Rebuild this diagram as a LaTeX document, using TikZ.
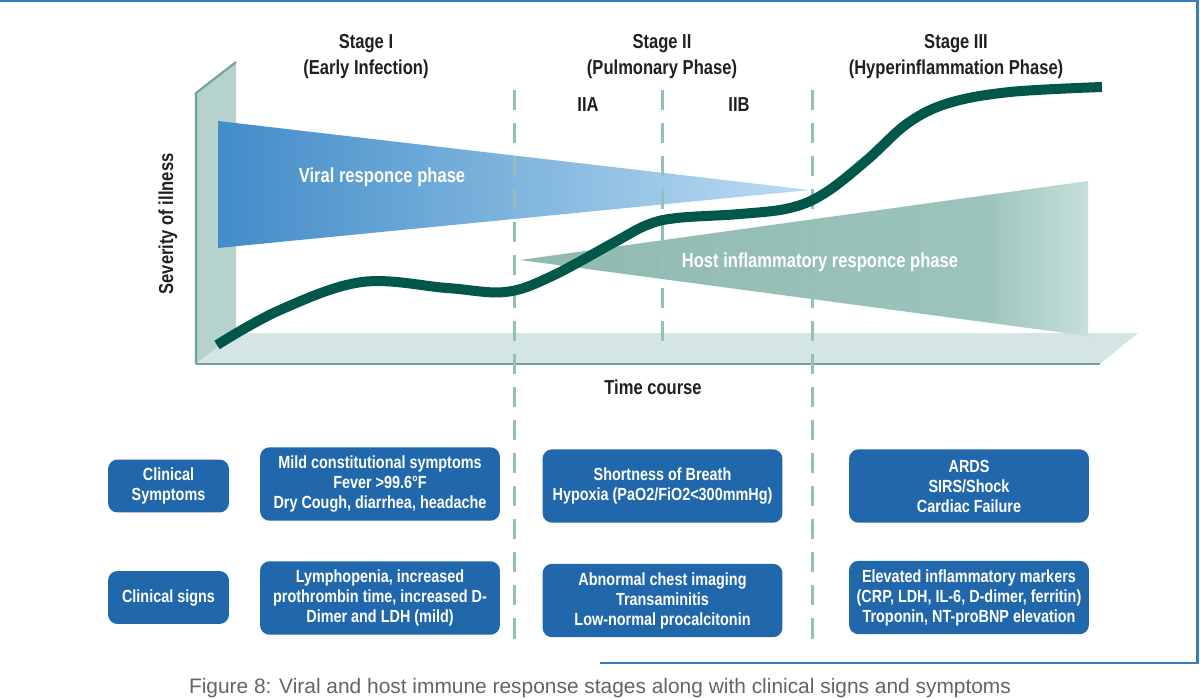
\documentclass[tikz,border=0pt]{standalone}
\usepackage{fontspec}
\newfontfamily\figfont[FakeStretch=0.82]{Liberation Sans}
\newfontfamily\capfont{Liberation Sans}
\usetikzlibrary{positioning}
\definecolor{boxblue}{RGB}{33,103,172}
\definecolor{framblue}{RGB}{58,124,192}
\definecolor{curvegreen}{RGB}{0,87,74}
\definecolor{wallteal}{RGB}{181,210,204}
\definecolor{floorteal}{RGB}{212,229,227}
\definecolor{edgeteal}{RGB}{107,166,156}
\definecolor{dashteal}{RGB}{147,193,185}
\definecolor{viralA}{RGB}{66,140,200}
\definecolor{viralB}{RGB}{188,221,243}
\definecolor{hostA}{RGB}{143,185,177}
\definecolor{hostM}{RGB}{156,196,188}
\definecolor{hostB}{RGB}{198,224,219}
\definecolor{inkdark}{RGB}{35,31,32}
\definecolor{capgray}{RGB}{100,100,100}
\pgfdeclarehorizontalshading{hostshade}{100bp}{color(0bp)=(hostA); color(25bp)=(hostA); color(66bp)=(hostM); color(75bp)=(hostB); color(100bp)=(hostB)}
\tikzset{
  stagelabel/.style={font=\figfont\bfseries\fontsize{11.5}{14.8}\selectfont, text=inkdark, align=center},
  phaselabel/.style={font=\figfont\bfseries\fontsize{11.5}{14}\selectfont, text=white},
  infobox/.style={rounded corners=5.5pt, fill=boxblue, text=white, align=center, inner sep=0pt,
    minimum width=4.8cm, minimum height=1.47cm, font=\figfont\bfseries\fontsize{10}{11.4}\selectfont},
  rowlabel/.style={infobox, minimum width=2.42cm, minimum height=1.06cm},
  stageline/.style={draw=dashteal, line width=1.7pt, dash pattern=on 11.4pt off 7.4pt},
  course/.style={draw=curvegreen, line width=5.7pt},
  frameline/.style={draw=framblue, line width=1.4pt}
}
\begin{document}
\begin{tikzpicture}[x=0.02cm, y=-0.02cm]
\useasboundingbox (0,0) rectangle (1200,699);
\draw[frameline] (0,1) -- (1197.5,1) -- (1197.5,663) -- (600,663);
\fill[wallteal] (196,364) -- (196,93) -- (236,62) -- (236,333) -- cycle;
\fill[floorteal] (196,364) -- (1100,364) -- (1138,333) -- (236,333) -- cycle;
\draw[edgeteal, line width=1.2pt] (196,364) -- (196,93) -- (236,62);
\draw[edgeteal, line width=1.7pt] (196,364) -- (1100,364);
\shade[left color=viralA, right color=viralB] (218,121) -- (810,190) -- (218,248) -- cycle;
\shade[shading=hostshade] (520,260) -- (1088,181) -- (1088,336) -- cycle;
\coordinate (d1t) at (514,90);
\coordinate (d1b) at (514,640);
\coordinate (d2t) at (662,90);
\coordinate (d2b) at (662,342);
\coordinate (d3t) at (812,90);
\coordinate (d3b) at (812,640);
\draw[stageline] (d1t) -- (d1b);
\draw[stageline] (d2t) -- (d2b);
\draw[stageline] (d3t) -- (d3b);
\draw[course] plot[smooth, tension=0.6] coordinates {(217,345) (280,310) (362,282) (447,288) (505,292) (550,277) (613,243) (647,225) (677,218) (740,214) (790,208) (825,193) (867,160) (908,123) (949,103) (1010,92) (1102,87)};
\node[stagelabel] (s1) at (366,57) {Stage I\\(Early Infection)};
\node[stagelabel] (s2) at (662,57) {Stage II\\(Pulmonary Phase)};
\node[stagelabel] (s3) at (956,57) {Stage III\\(Hyperinflammation Phase)};
\node[stagelabel] (s2a) at (588,105) {IIA};
\node[stagelabel] (s2b) at (739,105) {IIB};
\node[phaselabel] (viral) at (382,177) {Viral responce phase};
\node[phaselabel] (host) at (820,262) {Host inflammatory responce phase};
\node[stagelabel, rotate=90] (yaxis) at (168,224) {Severity of illness};
\node[stagelabel] (xaxis) at (653,387) {Time course};
\node[rowlabel] (symp) at (168.5,486) {Clinical\\Symptoms};
\node[rowlabel] (signs) at (168.5,597.5) {Clinical signs};
\node[infobox] (b11) at (380,484) {Mild constitutional symptoms\\Fever >99.6°F\\Dry Cough, diarrhea, headache};
\node[infobox] (b12) at (662.5,486) {Shortness of Breath\\Hypoxia (PaO2/FiO2<300mmHg)};
\node[infobox] (b13) at (969,486) {ARDS\\SIRS/Shock\\Cardiac Failure};
\node[infobox] (b21) at (380,598) {Lymphopenia, increased\\prothrombin time, increased D-\\Dimer and LDH (mild)};
\node[infobox] (b22) at (662.5,600.5) {Abnormal chest imaging\\Transaminitis\\Low-normal procalcitonin};
\node[infobox] (b23) at (969,597.5) {Elevated inflammatory markers\\(CRP, LDH, IL-6, D-dimer, ferritin)\\Troponin, NT-proBNP elevation};
\node[font=\capfont\fontsize{11.9}{14}\selectfont, text=capgray] (caption) at (600,688) {Figure 8: Viral and host immune response stages along with clinical signs and symptoms};
\end{tikzpicture}
\end{document}
